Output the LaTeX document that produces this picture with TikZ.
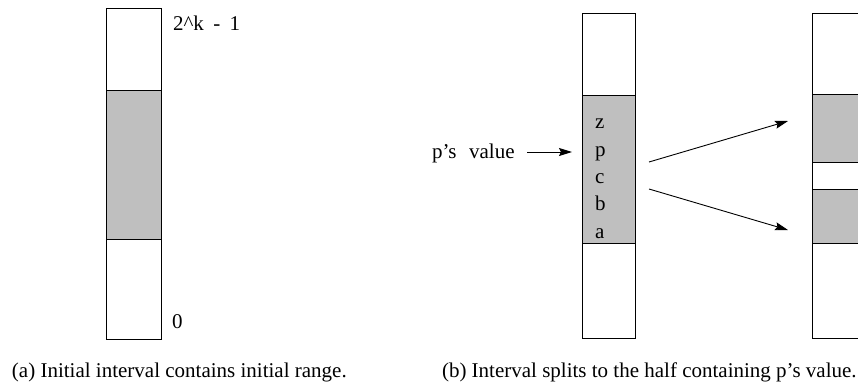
\documentclass[tikz,border=0pt]{standalone}
\usepackage{fontspec}
\setmainfont{Liberation Serif}
\usetikzlibrary{arrows.meta}
\begin{document}
\begin{tikzpicture}[x=1pt,y=-1pt,
  every node/.style={inner sep=0pt, outer sep=0pt, font=\fontsize{21}{24}\selectfont},
  shade/.style={fill=black!25, draw=black, line width=0.9pt},
  frame/.style={draw=black, line width=0.9pt},
  arr/.style={line width=0.9pt, -{Stealth[length=13pt,width=8pt,inset=2pt]}},
  lbl/.style={anchor=base west}]
\clip (0,0) rectangle (858,383);
\fill[white] (0,0) rectangle (858,383);

% (a) initial interval
\draw[shade] (106,90) rectangle (161,239);
\node[frame, minimum width=55pt, minimum height=331pt] (ia) at (133.5,173.5) {};
\node[lbl] (top) at (173,30) {2\^{}k\hspace{0.45em}-\hspace{0.45em}1};
\node[lbl] (zero) at (172,328) {0};

% (b) interval before splitting
\draw[shade] (582,95) rectangle (635,243);
\node[frame, minimum width=53pt, minimum height=325pt] (ib) at (608.5,175.5) {};
\node[lbl] (lz) at (595,128) {z};
\node[lbl] (lp) at (595,156) {p};
\node[lbl] (lc) at (595,183) {c};
\node[lbl] (lb) at (595,210) {b};
\node[lbl] (la) at (595,238) {a};
\node[lbl] (pv) at (432,158) {p’s\hspace{0.6em}value};
\coordinate (pvs) at (527,152);
\coordinate (pve) at (572,152);
\draw[arr] (pvs) -- (pve);

% halves after splitting
\draw[shade] (812,94) rectangle (880,162);
\draw[shade] (812,189) rectangle (880,243);
\node[frame, minimum width=68pt, minimum height=325pt, anchor=north west] (ic) at (812,13) {};
\coordinate (s1) at (649,162);
\coordinate (e1) at (788,121);
\coordinate (s2) at (649,189);
\coordinate (e2) at (788,230);
\draw[arr] (s1) -- (e1);
\draw[arr] (s2) -- (e2);

% captions
\node[lbl] (capa) at (12,377) {(a) Initial interval contains initial range.};
\node[lbl] (capb) at (442,377) {(b) Interval splits to the half containing p’s value.};
\end{tikzpicture}
\end{document}
